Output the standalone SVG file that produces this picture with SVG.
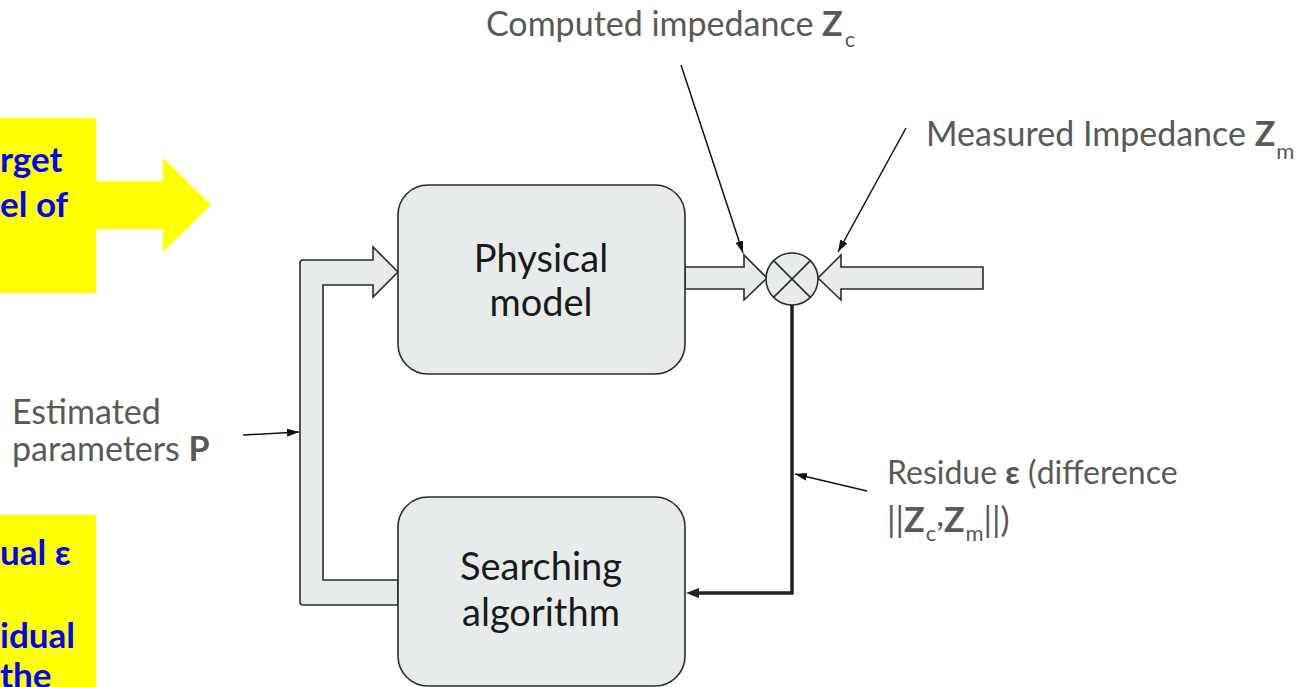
<svg xmlns="http://www.w3.org/2000/svg" width="1314" height="687" viewBox="0 0 1314 687">
<defs>
<style>
.box{fill:#e8ebeb;stroke:#2b2b2b;stroke-width:1.6}
.hollow{fill:#e8ebeb;stroke:#2b2b2b;stroke-width:1.6;stroke-linejoin:miter}
.boxtxt{font-family:Lato,"Noto Sans",sans-serif;font-size:38px;fill:#1a1a1a;text-anchor:middle}
.lbl{font-family:Lato,"Noto Sans",sans-serif;font-size:34px;fill:#595959}
.b{font-weight:bold}
.sub{font-size:22px}
.ytxt{font-family:Lato,"Noto Sans",sans-serif;font-size:35px;font-weight:bold;fill:#0000ff}
.thin{stroke:#111;stroke-width:1.5;fill:none}
</style>
<marker id="ah" viewBox="0 0 12 8" refX="12" refY="4" markerWidth="12" markerHeight="8" markerUnits="userSpaceOnUse" orient="auto">
<path d="M0,0 L12,4 L0,8 z" fill="#111"/>
</marker>
</defs>
<rect width="1314" height="687" fill="#fff"/>

<g id="yellow-top">
<rect x="0" y="118" width="96" height="175" fill="#ffff00"/>
<polygon points="96,181 163,181 163,158 211,205 163,252 163,229 96,229" fill="#ffff00"/>
<text class="ytxt" x="0" y="172">rget</text>
<text class="ytxt" x="0" y="217">el of</text>
</g>

<g id="yellow-bottom">
<rect x="0" y="515" width="96" height="172" fill="#ffff00"/>
<text class="ytxt" x="0" y="565">ual ε</text>
<text class="ytxt" x="0" y="648">idual</text>
<text class="ytxt" x="0" y="688">the</text>
</g>

<g id="connectors">
<path class="hollow" d="M398,605 L303,605 Q300,605 300,602 L300,263 Q300,260 303,260 L373,260 L373,247 L398,272 L373,297 L373,285 L323,285 L323,580 L398,580 Z"/>
<polygon class="hollow" points="685,267 744,267 744,255 767,278 744,300 744,289 685,289"/>
<polygon class="hollow" points="983,267 841,267 841,255 818,278 841,300 841,289 983,289"/>
<path d="M792,305 V593 H694" fill="none" stroke="#222" stroke-width="3.5"/>
<polygon points="686,593 699,588 699,598" fill="#222"/>
<line class="thin" x1="681" y1="65" x2="743" y2="253" marker-end="url(#ah)"/>
<line class="thin" x1="906" y1="128" x2="838" y2="252" marker-end="url(#ah)"/>
<line class="thin" x1="243" y1="435" x2="299" y2="432" marker-end="url(#ah)"/>
<line class="thin" x1="867" y1="491" x2="795" y2="474" marker-end="url(#ah)"/>
</g>

<g id="physical-model">
<rect class="box" x="398" y="185" width="287" height="189" rx="30"/>
<text class="boxtxt" x="541" y="272">Physical</text>
<text class="boxtxt" x="541" y="316">model</text>
</g>

<g id="searching-algorithm">
<rect class="box" x="398" y="497" width="287" height="189" rx="30"/>
<text class="boxtxt" x="541" y="580">Searching</text>
<text class="boxtxt" x="541" y="626">algorithm</text>
</g>

<g id="comparator">
<circle class="box" cx="792" cy="279" r="26"/>
<line x1="773.6" y1="260.6" x2="810.4" y2="297.4" stroke="#2b2b2b" stroke-width="1.6"/>
<line x1="810.4" y1="260.6" x2="773.6" y2="297.4" stroke="#2b2b2b" stroke-width="1.6"/>
</g>

<g id="label-computed">
<text class="lbl" x="486" y="36">Computed impedance <tspan class="b">Z</tspan><tspan class="sub" dx="2" dy="11">c</tspan></text>
</g>
<g id="label-measured">
<text class="lbl" x="926" y="146">Measured Impedance <tspan class="b">Z</tspan><tspan class="sub" dx="1" dy="13">m</tspan></text>
</g>
<g id="label-estimated">
<text class="lbl" x="12" y="424">Estimated</text>
<text class="lbl" x="12" y="461">parameters <tspan class="b">P</tspan></text>
</g>
<g id="label-residue">
<text class="lbl" x="887" y="484" style="font-size:32px">Residue <tspan class="b">ε</tspan> (difference</text>
<text class="lbl" x="887" y="532">||<tspan class="b">Z</tspan><tspan class="sub" dx="1" dy="9">c</tspan><tspan dy="-15">,</tspan><tspan class="b" dy="6">Z</tspan><tspan class="sub" dx="1" dy="9">m</tspan><tspan dy="-9">||)</tspan></text>
</g>
</svg>
